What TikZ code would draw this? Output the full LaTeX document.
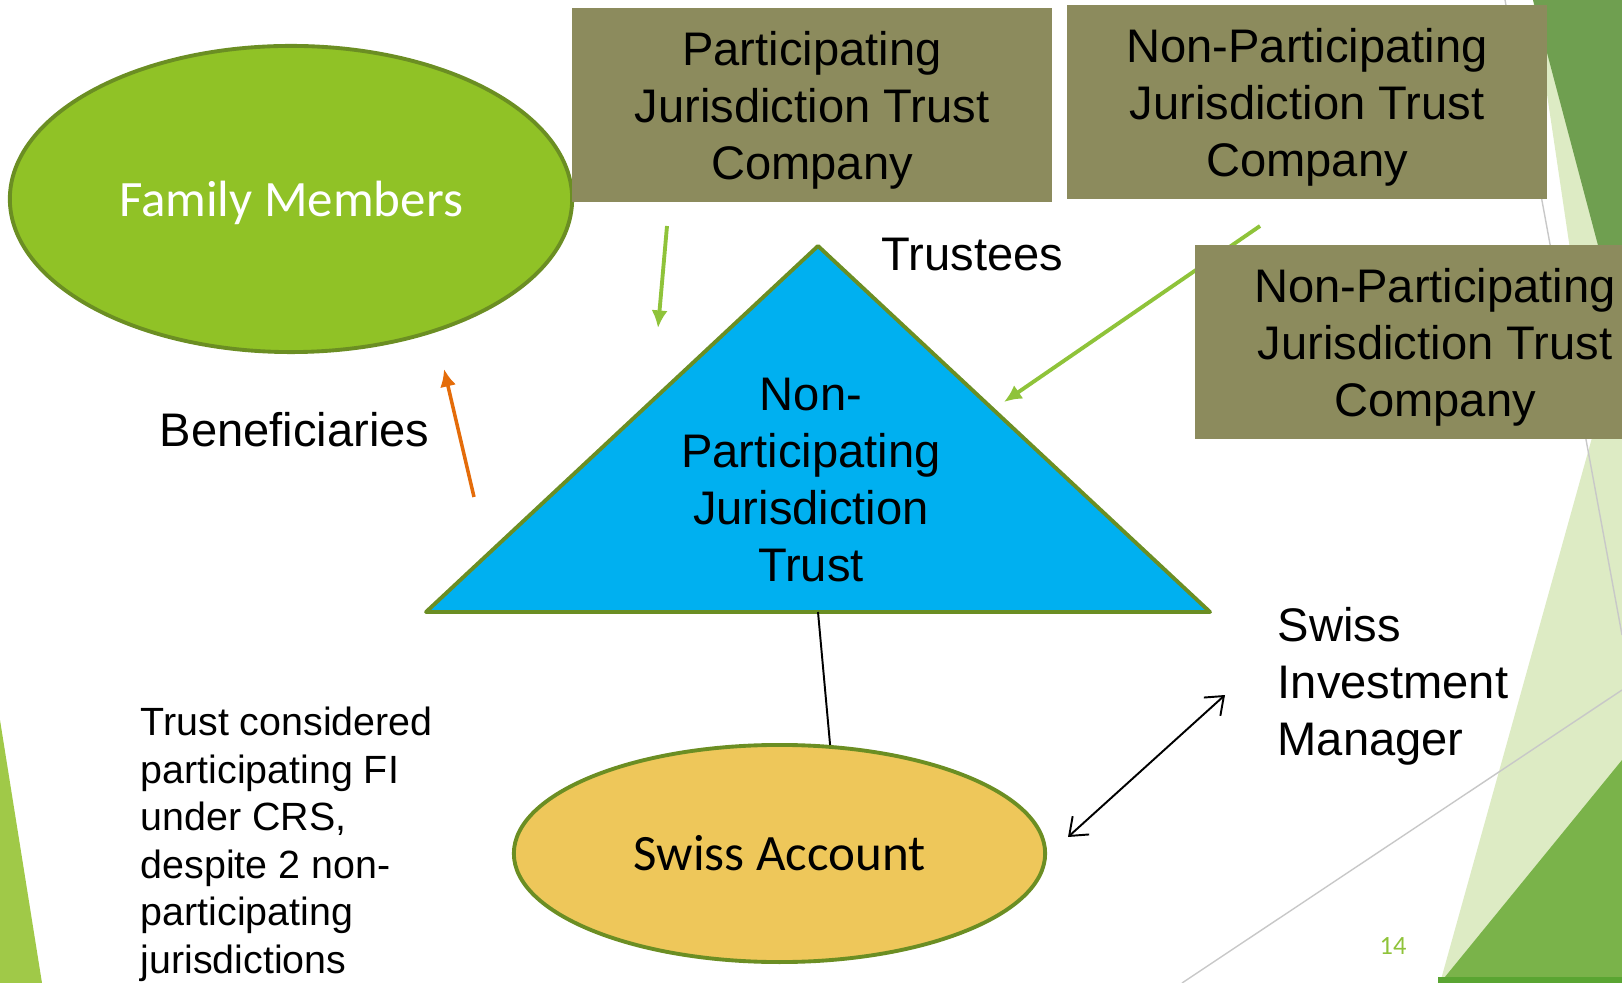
\documentclass[tikz,border=0pt]{standalone}
\usepackage{fontspec}
\setmainfont{Liberation Sans}
\newfontfamily\carlito{Carlito}
\usepackage{tikz}
\usetikzlibrary{shapes,arrows.meta,positioning}

\definecolor{famgreen}{HTML}{90C226}
\definecolor{rimgreen}{HTML}{6B8E23}
\definecolor{boxkhaki}{HTML}{8C8B5D}
\definecolor{trustblue}{HTML}{00B0F0}
\definecolor{acctgold}{HTML}{EEC75A}
\definecolor{linkgreen}{HTML}{8FC33A}
\definecolor{benorange}{HTML}{E46C0A}
\definecolor{facetdark}{HTML}{6F9F50}
\definecolor{facetlight}{HTML}{DDEBC4}
\definecolor{facetmid}{HTML}{7AB34A}
\definecolor{facetbar}{HTML}{5AA532}
\definecolor{facetleft}{HTML}{A0C948}
\definecolor{facetgray}{HTML}{C8C8C8}

\newcommand{\boxfont}{\fontsize{13.4pt}{16.2pt}\selectfont}
\newcommand{\notefont}{\fontsize{11.2pt}{13.5pt}\selectfont}
\newcommand{\blobfont}{\carlito\fontsize{14.5pt}{17pt}\selectfont}

\begin{document}
\begin{tikzpicture}[x=0.01cm, y=-0.01cm]
	\tikzset{tcbox/.style = {rectangle, fill=boxkhaki, minimum width=4.8cm, minimum height=1.94cm, inner sep=0pt, align=center, font=\boxfont, text depth=-1pt}}
	\tikzset{blob/.style = {ellipse, draw=rimgreen, line width=1.1pt, inner sep=0pt, font=\blobfont}}
	\tikzset{freetext/.style = {inner sep=0pt, font=\boxfont}}
	\tikzset{link/.style = {draw=linkgreen, line width=1.1pt, -{Latex[length=5pt,width=4.6pt]}}}

	\useasboundingbox (0,0) rectangle (1622,983);

	% slide theme
	\fill[facetleft] (0,720) -- (42,983) -- (0,983) -- cycle;
	\fill[facetlight] (1533,0) -- (1622,0) -- (1622,600) -- cycle;
	\fill[facetdark] (1533,0) -- (1622,0) -- (1622,336) -- cycle;
	\fill[facetlight] (1622,330) -- (1440,983) -- (1622,983) -- cycle;
	\fill[facetmid] (1622,760) -- (1440,983) -- (1622,983) -- cycle;
	\fill[facetbar] (1438,977) rectangle (1622,983);
	\draw[facetgray, line width=0.4pt] (1505,0) -- (1622,635);
	\draw[facetgray, line width=0.4pt] (1182,983) -- (1622,690);

	\node[blob, fill=famgreen, text=white, text depth=0pt, minimum width=5.62cm, minimum height=3.06cm] (fam) at (291,199) {Family Members};
	\node[tcbox] (pjtc) at (812,105) {Participating\\Jurisdiction Trust\\Company};
	\node[tcbox] (npjtc) at (1307,102) {Non-Participating\\Jurisdiction Trust\\Company};

	\coordinate (npS) at (1260,226);
	\coordinate (npT) at (1004,402);
	\draw[link] (npS) -- (npT);

	\node[tcbox] (npjtcb) at (1435,342) {Non-Participating\\Jurisdiction Trust\\Company};

	% trust triangle
	\coordinate (apex) at (818,246);
	\coordinate (bl) at (426,612);
	\coordinate (br) at (1210,612);
	\filldraw[fill=trustblue, draw=rimgreen, line width=1.1pt, line join=round] (apex) -- (br) -- (bl) -- cycle;
	\node[align=center, font=\boxfont, inner sep=0pt] (trust) at (811,480) {Non-\\Participating\\Jurisdiction\\Trust};

	\node[blob, fill=acctgold, minimum width=5.31cm, minimum height=2.17cm] (acct) at (779.5,853.5) {Swiss Account};
	\coordinate (tbase) at (818,612);
	\draw[line width=0.55pt] (tbase) -- (acct.65);

	\node[freetext, anchor=base west] (trustees) at (881,271) {Trustees};
	\node[freetext, anchor=base west] (benef) at (159,447) {Beneficiaries};
	\node[freetext, anchor=base west, align=left] (sim) at (1277,755) {Swiss\\Investment\\Manager};
	\node[anchor=base west, align=left, inner sep=0pt, font=\notefont] (note) at (140,973) {Trust considered\\participating FI\\under CRS,\\despite 2 non-\\participating\\jurisdictions};
	\node[anchor=base west, inner sep=0pt, text=linkgreen, font=\carlito\fontsize{7.5pt}{9pt}\selectfont] (pgno) at (1379,954) {14};

	\coordinate (benS) at (474,497);
	\coordinate (benT) at (444,369);
	\draw[benorange, line width=1pt, -{Latex[length=5pt,width=4.6pt]}] (benS) -- (benT);

	\coordinate (pS) at (667,226);
	\coordinate (pT) at (658,328);
	\draw[link] (pS) -- (pT);

	\coordinate (simA) at (1068,837);
	\coordinate (simB) at (1225,695);
	\draw[line width=0.55pt, {Straight Barb[length=4.5pt,width=7pt]}-{Straight Barb[length=4.5pt,width=7pt]}] (simA) -- (simB);
\end{tikzpicture}
\end{document}
